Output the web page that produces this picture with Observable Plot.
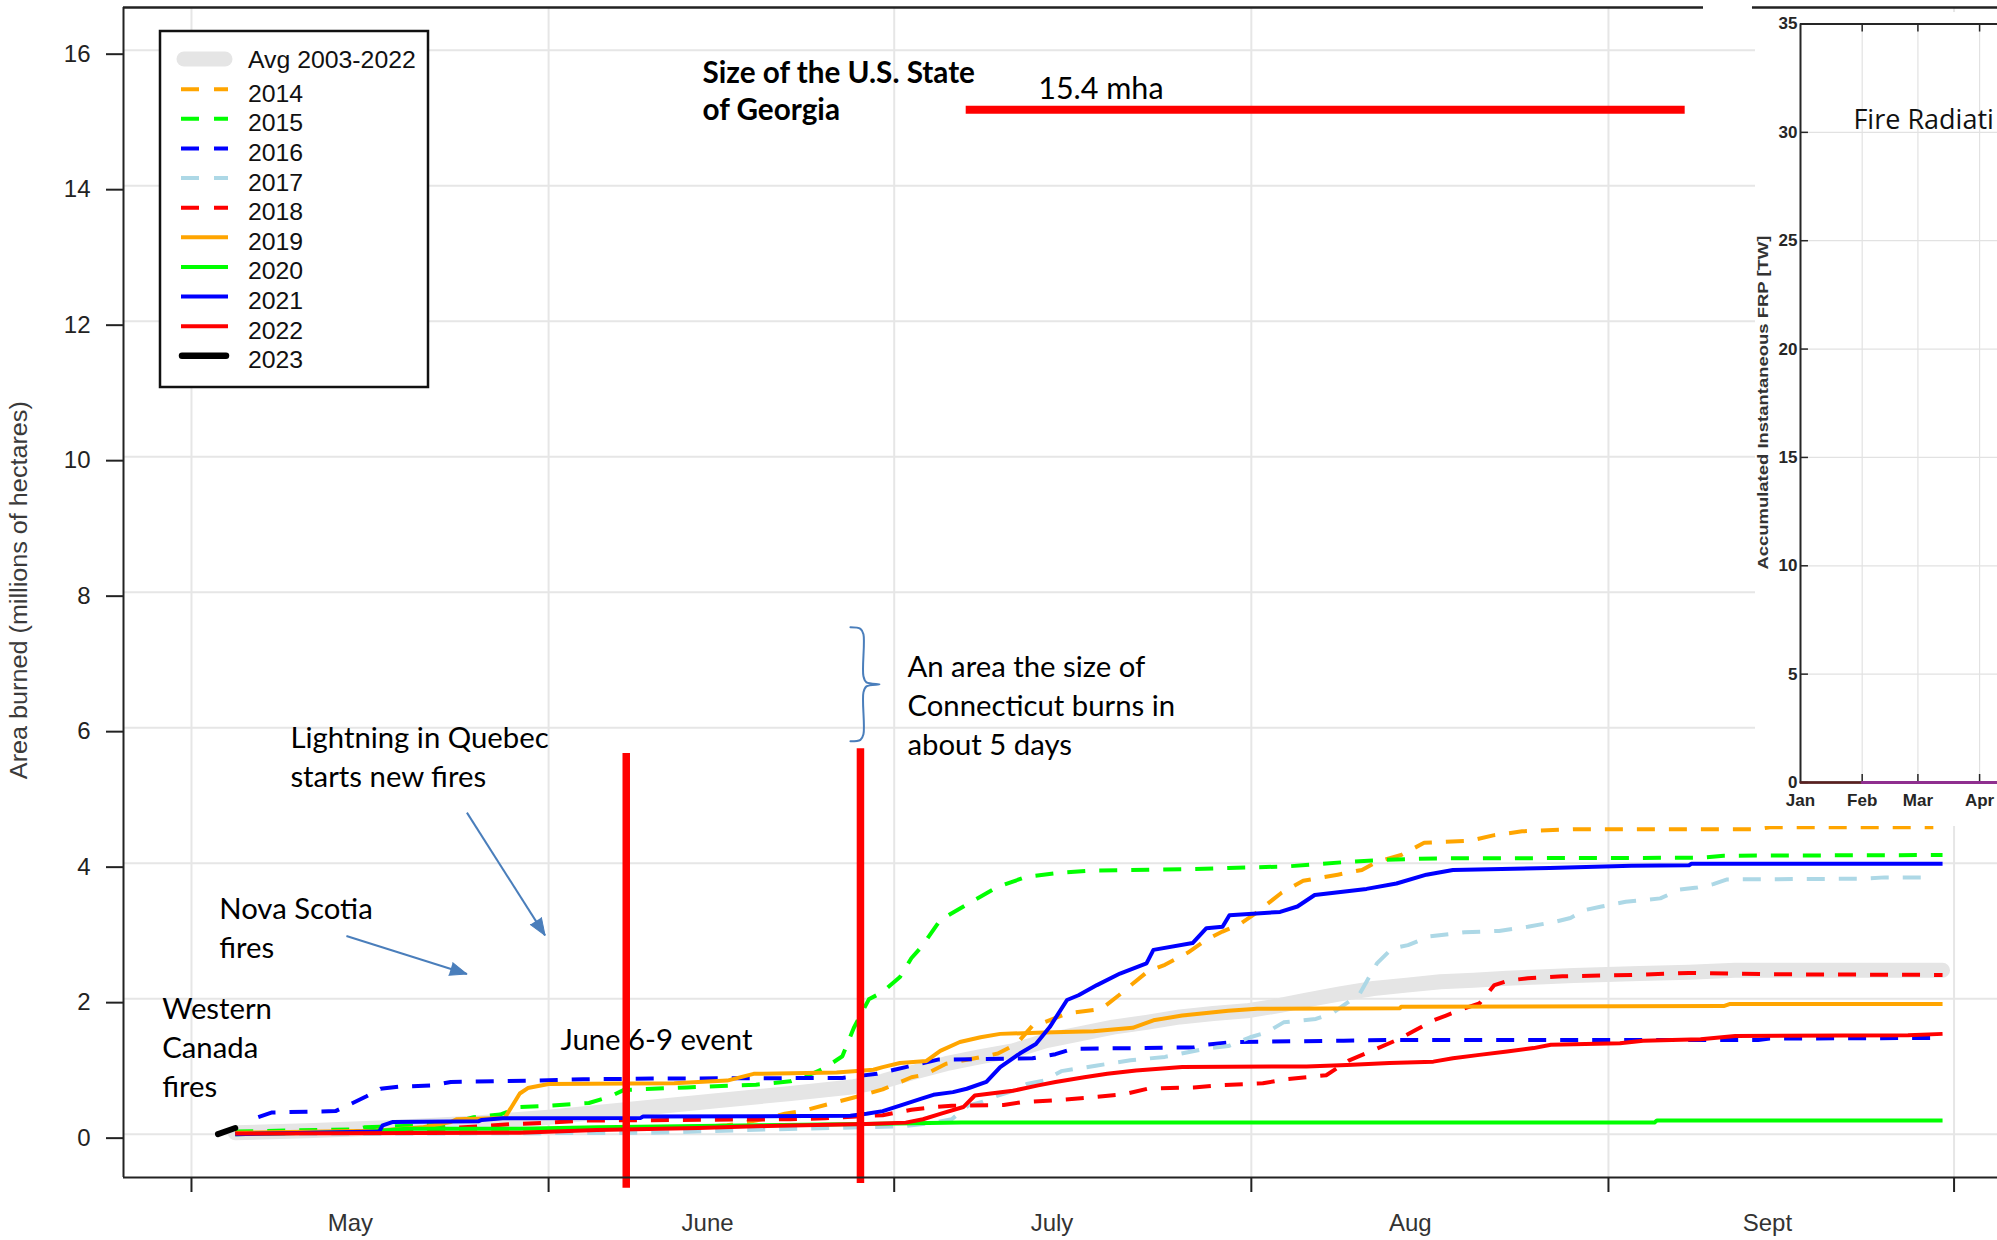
<!DOCTYPE html>
<html>
<head>
<meta charset="utf-8">
<script src="https://cdn.jsdelivr.net/npm/d3@7"></script>
<script src="https://cdn.jsdelivr.net/npm/@observablehq/plot@0.6"></script>
<style>
html, body { margin: 0; padding: 0; background: #fff; overflow: hidden; }
#wrap { position: relative; width: 1997px; height: 1240px; }
#main { position: absolute; left: 0; top: 0; }
#legend { position: absolute; left: 0; top: 0; pointer-events: none; }
#inset { position: absolute; left: 1755px; top: 12px; width: 242px; height: 814px; overflow: hidden; background: #fff; }
</style>
</head>
<body>
<div id="wrap"><div id="main"></div><svg id="legend"></svg><div id="inset"></div></div>
<script>
// ---------- DATA (x = days since May 1, y = area burned in millions of hectares) ----------
const seasonTicks = [0, 31, 61, 92, 123, 153];           // May 1, Jun 1, Jul 1, Aug 1, Sep 1, Oct 1
const monthLabels = ["May", "June", "July", "Aug", "Sept"];
const monthLabelDays = [13.8, 44.8, 74.7, 105.8, 136.8];
const yTicks = [0, 2, 4, 6, 8, 10, 12, 14, 16];

const avg = [[3.8,0.02],[10,0.05],[18,0.1],[25,0.17],[31,0.25],[37,0.35],[46,0.5],[52,0.6],[57.5,0.7],[60,0.78],[62.6,0.91],[65.5,1.04],[68.4,1.14],[71.3,1.23],[74.2,1.38],[77.1,1.48],[80,1.58],[82.9,1.65],[85.8,1.73],[88.7,1.78],[91.6,1.82],[94.5,1.9],[96.8,1.98],[99.7,2.07],[102.6,2.15],[105.5,2.2],[108.4,2.25],[111.3,2.27],[114.2,2.3],[117,2.32],[120,2.34],[125.7,2.37],[130,2.39],[134,2.42],[152,2.42]];
const s2014 = [[3.8,0.01],[20,0.04],[35,0.07],[44,0.11],[46.5,0.13],[49,0.2],[51.5,0.3],[53,0.34],[55,0.43],[57.5,0.54],[60,0.66],[62.5,0.84],[63.7,0.88],[65.5,1.04],[68,1.12],[70,1.19],[71.6,1.33],[73,1.6],[74,1.65],[76,1.78],[79,1.85],[80.5,2.05],[81.7,2.22],[83,2.4],[84.5,2.5],[86.5,2.68],[88,2.86],[89.5,2.99],[91,3.1],[92.3,3.25],[94.6,3.56],[96.5,3.74],[99.5,3.83],[101.6,3.9],[102.9,4.02],[105,4.12],[107,4.3],[111,4.33],[113,4.41],[115.5,4.47],[120,4.5],[136,4.5],[137,4.53],[151.2,4.53]];
const s2015 = [[3.8,0.04],[14.3,0.07],[15,0.1],[22,0.14],[24.5,0.25],[26.8,0.29],[28.5,0.4],[31,0.42],[34.5,0.46],[36.3,0.55],[37.5,0.65],[40,0.67],[43,0.69],[46,0.71],[49,0.73],[52,0.78],[54,0.9],[55,0.98],[56.5,1.15],[57.5,1.57],[58.8,1.99],[60,2.1],[61.5,2.32],[62.5,2.6],[63.4,2.77],[65,3.16],[67.5,3.41],[70,3.65],[72.5,3.8],[75.5,3.86],[78,3.89],[86.5,3.91],[90,3.93],[95,3.95],[98,3.99],[100.5,4.02],[103.5,4.05],[108,4.07],[131,4.08],[133,4.11],[152,4.12]];
const s2016 = [[5.8,0.25],[7,0.32],[12.5,0.34],[14,0.46],[15.2,0.56],[16.4,0.67],[18,0.7],[21,0.72],[22.5,0.77],[30,0.79],[34,0.81],[40,0.82],[56.5,0.83],[59.5,0.89],[62,0.99],[64.8,1.1],[73,1.12],[75,1.18],[76.5,1.26],[87,1.28],[88,1.32],[90.5,1.36],[100,1.38],[104,1.39],[136,1.39],[137,1.41],[152,1.42]];
const s2017 = [[3.8,0],[40,0.02],[50,0.07],[58,0.1],[62,0.12],[64.5,0.17],[66,0.22],[67.4,0.42],[68.7,0.48],[70,0.57],[71.3,0.64],[72.5,0.74],[74,0.79],[75.5,0.93],[78.5,1.01],[81.5,1.09],[84.5,1.14],[86.5,1.21],[88,1.26],[90,1.3],[91.9,1.43],[93.3,1.5],[94.8,1.65],[97.6,1.7],[99,1.78],[100,1.9],[101.4,2.07],[102,2.25],[102.9,2.52],[104.2,2.74],[105.6,2.79],[107.5,2.92],[110.5,2.98],[113.5,3.0],[116,3.06],[118.5,3.14],[119.7,3.19],[121,3.31],[122.4,3.36],[124.5,3.43],[127.5,3.48],[129.2,3.61],[130.7,3.64],[132.1,3.69],[133.3,3.76],[145,3.77],[147,3.79],[150.5,3.79]];
const s2018 = [[3.8,0.01],[20,0.06],[28,0.15],[31,0.17],[34,0.2],[52,0.22],[55,0.235],[60,0.28],[62.5,0.36],[64.4,0.4],[66,0.42],[70.5,0.43],[72,0.47],[75,0.5],[78,0.54],[81,0.59],[83,0.67],[87,0.69],[89,0.72],[93,0.75],[95,0.81],[98.5,0.87],[100.5,1.09],[103,1.27],[104.9,1.41],[106.3,1.54],[107.8,1.68],[108.9,1.75],[110.4,1.85],[111.8,1.93],[113.1,2.2],[114.4,2.27],[116,2.3],[119,2.33],[125,2.35],[130,2.38],[137,2.36],[152,2.35]];
const s2019 = [[3.8,0.02],[16,0.05],[20,0.1],[22.5,0.18],[23,0.22],[27.2,0.24],[28.5,0.6],[29.2,0.68],[31,0.74],[41.9,0.75],[46.5,0.79],[48.8,0.89],[56,0.91],[59.2,0.95],[60,0.99],[61.5,1.05],[63.8,1.08],[65,1.23],[66.7,1.36],[68.5,1.43],[70.2,1.48],[74,1.5],[78.3,1.52],[81.7,1.57],[83.5,1.68],[86,1.75],[90,1.82],[92.5,1.85],[104.9,1.86],[105,1.88],[133,1.89],[133.5,1.92],[152,1.92]];
const s2020 = [[3.8,0],[15,0.03],[18.7,0.08],[28.5,0.08],[35.2,0.1],[49.4,0.13],[58.3,0.15],[66.8,0.17],[127,0.17],[127.2,0.2],[152,0.2]];
const s2021 = [[3.8,0],[14,0.03],[16.3,0.04],[16.6,0.13],[17.5,0.18],[24.9,0.19],[25.2,0.21],[27,0.235],[39,0.24],[39.2,0.26],[57.2,0.27],[58.6,0.3],[60,0.34],[61.5,0.42],[63.3,0.52],[64.4,0.58],[66.1,0.62],[67.3,0.67],[69,0.77],[70.2,0.99],[71.9,1.19],[73.3,1.33],[74.5,1.58],[76,1.98],[77,2.05],[78.6,2.2],[80.6,2.37],[82.9,2.52],[83.5,2.72],[86.9,2.82],[88.1,3.04],[89.5,3.06],[90.1,3.23],[94.5,3.28],[96,3.36],[97.5,3.53],[102,3.62],[104.6,3.7],[107.2,3.83],[109.5,3.9],[117.9,3.93],[125,3.96],[130,3.97],[130.2,3.99],[152,3.99]];
const s2022 = [[3.8,0.01],[28.5,0.02],[35.2,0.06],[44,0.09],[50,0.12],[58.6,0.15],[62,0.17],[63.5,0.22],[65,0.3],[67,0.4],[68,0.57],[71.3,0.64],[73.5,0.72],[75,0.77],[77.5,0.84],[79.5,0.89],[82,0.94],[86,0.99],[96.8,1.0],[100.3,1.02],[104,1.05],[107.8,1.07],[109.5,1.12],[111.8,1.17],[114.2,1.22],[116.5,1.27],[118,1.32],[124,1.34],[126,1.38],[131,1.4],[134,1.45],[149,1.46],[152,1.48]];
const s2023 = [[2.3,0],[3.8,0.09]];

const series = [
  {label: "2014", data: s2014, color: "#FFA500", dashed: true},
  {label: "2015", data: s2015, color: "#00FF00", dashed: true},
  {label: "2016", data: s2016, color: "#0000FF", dashed: true},
  {label: "2017", data: s2017, color: "#ADD8E6", dashed: true},
  {label: "2018", data: s2018, color: "#FF0000", dashed: true},
  {label: "2019", data: s2019, color: "#FFA500", dashed: false},
  {label: "2020", data: s2020, color: "#00FF00", dashed: false},
  {label: "2021", data: s2021, color: "#0000FF", dashed: false},
  {label: "2022", data: s2022, color: "#FF0000", dashed: false},
  {label: "2023", data: s2023, color: "#000000", dashed: false, thick: true}
];

// annotations (data units)
const eventLines = [{x: 37.74, y1: -0.8, y2: 5.62}, {x: 58.07, y1: -0.73, y2: 5.69}];
const georgiaLine = [{x1: 67.25, x2: 129.66, y: 15.12}];
const notes = [
  {x: -2.54, y: 1.31, text: "Western\nCanada\nfires"},
  {x: 2.41, y: 3.07, text: "Nova Scotia\nfires"},
  {x: 8.59, y: 5.6, text: "Lightning in Quebec\nstarts new fires"},
  {x: 32.03, y: 1.43, text: "June 6-9 event"},
  {x: 62.15, y: 6.36, text: "An area the size of\nConnecticut burns in\nabout 5 days"}
];
const mhaNote = [{x: 73.5, y: 15.42, text: "15.4 mha"}];
const georgiaNote = [{x: 44.36, y: 15.42, text: "Size of the U.S. State\nof Georgia"}];
const arrows = [
  {x1: 13.45, y1: 2.925, x2: 23.91, y2: 2.363},
  {x1: 23.91, y1: 4.746, x2: 30.69, y2: 2.934}
];
const brace = [[57.2,7.482],[58.07,7.459],[58.33,7.378],[58.33,6.758],[58.59,6.669],[59.72,6.64],[58.59,6.61],[58.33,6.521],[58.33,5.901],[58.07,5.82],[57.2,5.798]];
const yLabel = "Area burned (millions of hectares)";

// inset (Fire Radiative Power), x = day of year from Jan 1
const frpMonths = [{doy: 0, label: "Jan"}, {doy: 31, label: "Feb"}, {doy: 59, label: "Mar"}, {doy: 90, label: "Apr"}];
const frpTicks = [0, 5, 10, 15, 20, 25, 30, 35];
const frpJan = [[0, 0], [31, 0]];
const frp2023 = [[31, 0], [99, 0]];
const frpYLabel = "Accumulated Instantaneous FRP [TW]";
const frpTitle = "Fire Radiati";

// ---------- LAYOUT ----------
const W = 1997, H = 1240, ML = 123, MT = 7, MB = 63;
const X0 = -5.9, X1 = 156.77, Y0 = -0.64, Y1 = 16.63;
const px = d => ML + (d - X0) / (X1 - X0) * (W - ML);
const py = v => MT + (Y1 - v) / (Y1 - Y0) * (H - MT - MB);
const angleOf = a => Math.atan2(px(a.x2) - px(a.x1), -(py(a.y2) - py(a.y1))) * 180 / Math.PI;

const ink = "#222";
const arrowBlue = "#4a7ebb";
const annoFont = "Lato, 'Open Sans', sans-serif";

const lineMarks = series.map(s => Plot.line(s.data, {
  x: d => d[0], y: d => d[1], stroke: s.color,
  strokeWidth: s.thick ? 6 : 4,
  strokeDasharray: s.dashed ? "18,14" : null,
  strokeLinejoin: "round", strokeLinecap: s.thick ? "round" : "butt"
}));

const main = Plot.plot({
  width: W, height: H,
  marginLeft: ML, marginRight: 0, marginTop: MT, marginBottom: MB,
  x: {domain: [X0, X1], axis: null},
  y: {domain: [Y0, Y1], axis: null},
  style: {fontFamily: "'Liberation Sans', Arial, sans-serif", fontSize: "24px", background: "white", color: ink},
  marks: [
    Plot.gridX(seasonTicks, {stroke: "#e6e6e6", strokeOpacity: 1, strokeWidth: 2}),
    Plot.gridY(yTicks, {stroke: "#e6e6e6", strokeOpacity: 1, strokeWidth: 2}),
    Plot.line(avg, {x: d => d[0], y: d => d[1], stroke: "#e5e5e5", strokeWidth: 15, strokeLinecap: "round", strokeLinejoin: "round"}),
    ...lineMarks,
    Plot.ruleX(eventLines, {x: "x", y1: "y1", y2: "y2", stroke: "#FF0000", strokeWidth: 7.5}),
    Plot.ruleY(georgiaLine, {x1: "x1", x2: "x2", y: "y", stroke: "#FF0000", strokeWidth: 8}),
    // frame
    Plot.ruleX([X0], {stroke: ink, strokeWidth: 2}),
    Plot.ruleY([Y0], {stroke: ink, strokeWidth: 2}),
    Plot.ruleY([{a: X0, b: 131.25}, {a: 135.5, b: X1}], {x1: "a", x2: "b", y: Y1, stroke: ink, strokeWidth: 2.5}),
    Plot.axisY(yTicks, {anchor: "left", tickSize: 17, tickPadding: 16, strokeWidth: 2, color: ink, label: null, dy: 4, fontSize: 24, tickFormat: d => String(d)}),
    Plot.axisX(seasonTicks, {anchor: "bottom", tickSize: 15, strokeWidth: 2, color: ink, label: null, tickFormat: () => ""}),
    Plot.text(monthLabelDays.map((d, i) => ({d, label: monthLabels[i]})), {x: "d", text: "label", frameAnchor: "bottom", lineAnchor: "middle", dy: 46, fontSize: 24, fill: "#333"}),
    Plot.text([yLabel], {x: X0, dx: -104, y: 8.03, text: d => d, rotate: -90, fontSize: 23, fill: "#3a3a3a"}),
    // annotations
    Plot.text(notes, {x: "x", y: "y", text: "text", textAnchor: "start", lineAnchor: "middle", lineHeight: 1.33, fontSize: 29.3, fontFamily: annoFont, fill: "#000"}),
    Plot.text(mhaNote, {x: "x", y: "y", text: "text", textAnchor: "start", lineAnchor: "middle", fontSize: 30.5, fontFamily: annoFont, fill: "#000"}),
    Plot.text(georgiaNote, {x: "x", y: "y", text: "text", textAnchor: "start", lineAnchor: "middle", lineHeight: 1.25, fontSize: 29.7, fontWeight: "bold", fontFamily: annoFont, fill: "#000"}),
    Plot.link(arrows, {x1: "x1", y1: "y1", x2: "x2", y2: "y2", stroke: arrowBlue, strokeWidth: 2}),
    Plot.vector(arrows, {x: "x2", y: "y2", rotate: angleOf, length: 17, r: 6.5, shape: "spike", anchor: "end", fill: arrowBlue, stroke: arrowBlue, strokeWidth: 1}),
    Plot.line(brace, {x: d => d[0], y: d => d[1], stroke: arrowBlue, strokeWidth: 2, curve: "catmull-rom"})
  ]
});
document.getElementById("main").appendChild(main);
main.querySelectorAll("text").forEach(t => {
  if (t.textContent === yLabel) { t.setAttribute("textLength", 378); t.setAttribute("lengthAdjust", "spacingAndGlyphs"); }
});

// ---------- LEGEND ----------
const legendItems = [{label: "Avg 2003-2022", color: "#e5e5e5", width: 15, avg: true}]
  .concat(series.map(s => ({label: s.label, color: s.color, width: s.thick ? 6.5 : 4, dashed: s.dashed, thick: s.thick})));
const lg = d3.select("#legend").attr("width", W).attr("height", H);
lg.append("rect").attr("x", 160).attr("y", 31).attr("width", 268).attr("height", 356)
  .attr("fill", "white").attr("stroke", "#111").attr("stroke-width", 2.5);
legendItems.forEach((it, i) => {
  const base = i === 0 ? 68.3 : 101.7 + (i - 1) * 29.63;
  const ly = it.avg ? base - 9.3 : base - 12.5;
  lg.append("line")
    .attr("x1", it.avg ? 184 : (it.thick ? 182 : 181)).attr("x2", it.avg ? 225 : (it.thick ? 226 : 228))
    .attr("y1", ly).attr("y2", ly)
    .attr("stroke", it.color).attr("stroke-width", it.width)
    .attr("stroke-linecap", it.avg || it.thick ? "round" : "butt")
    .attr("stroke-dasharray", it.dashed ? "18,15" : null);
  lg.append("text").attr("x", 248).attr("y", base).text(it.label)
    .attr("font-family", "'Liberation Sans', Arial, sans-serif").attr("font-size", 24.8).attr("fill", "#111");
});

// ---------- INSET ----------
const insetInk = "#262626";
const inset = Plot.plot({
  width: 242, height: 814,
  marginLeft: 45, marginRight: 0, marginTop: 11.5, marginBottom: 44,
  x: {domain: [0, 99], axis: null},
  y: {domain: [0, 35], axis: null},
  style: {fontFamily: "'Liberation Sans', Arial, sans-serif", fontSize: "17px", fontWeight: "bold", background: "white", color: insetInk},
  marks: [
    Plot.gridX([31, 59, 90], {stroke: "#e2e2e2", strokeOpacity: 1, strokeWidth: 1.2}),
    Plot.gridY([5, 10, 15, 20, 25, 30], {stroke: "#e2e2e2", strokeOpacity: 1, strokeWidth: 1.2}),
    Plot.ruleX([0], {stroke: insetInk, strokeWidth: 2}),
    Plot.ruleY([35], {stroke: insetInk, strokeWidth: 2}),
    Plot.ruleY([0], {stroke: insetInk, strokeWidth: 2}),
    Plot.ruleY(frpTicks, {x1: 0, x2: 4, stroke: insetInk, strokeWidth: 1.5}),
    Plot.ruleX([31, 59, 90], {y1: 0, y2: 0.37, stroke: insetInk, strokeWidth: 1.5}),
    Plot.ruleX([31, 59, 90], {y1: 35, y2: 34.63, stroke: insetInk, strokeWidth: 1.5}),
    Plot.axisY(frpTicks, {anchor: "left", tickSize: 0, tickPadding: 3, label: null, color: insetInk, fontSize: 17}),
    Plot.text(frpMonths, {x: "doy", text: "label", frameAnchor: "bottom", lineAnchor: "middle", dy: 18, fontSize: 17, fill: insetInk}),
    Plot.line(frpJan, {x: d => d[0], y: d => d[1], stroke: "#5b2020", strokeWidth: 2.5}),
    Plot.line(frp2023, {x: d => d[0], y: d => d[1], stroke: "#8f2f8f", strokeWidth: 3}),
    Plot.text([frpTitle], {x: 26.6, y: 30.55, text: d => d, textAnchor: "start", fontFamily: "'Open Sans', sans-serif", fontWeight: "normal", fontSize: 27, fill: "#111"}),
    Plot.text([frpYLabel], {x: 0, dx: -37, y: 17.53, text: d => d, rotate: -90, fontSize: 15.5, fontWeight: "bold", fill: "#333"})
  ]
});
document.getElementById("inset").appendChild(inset);
inset.querySelectorAll("text").forEach(t => {
  if (t.textContent === frpYLabel) { t.setAttribute("textLength", 334); t.setAttribute("lengthAdjust", "spacingAndGlyphs"); }
});
</script>
</body>
</html>
